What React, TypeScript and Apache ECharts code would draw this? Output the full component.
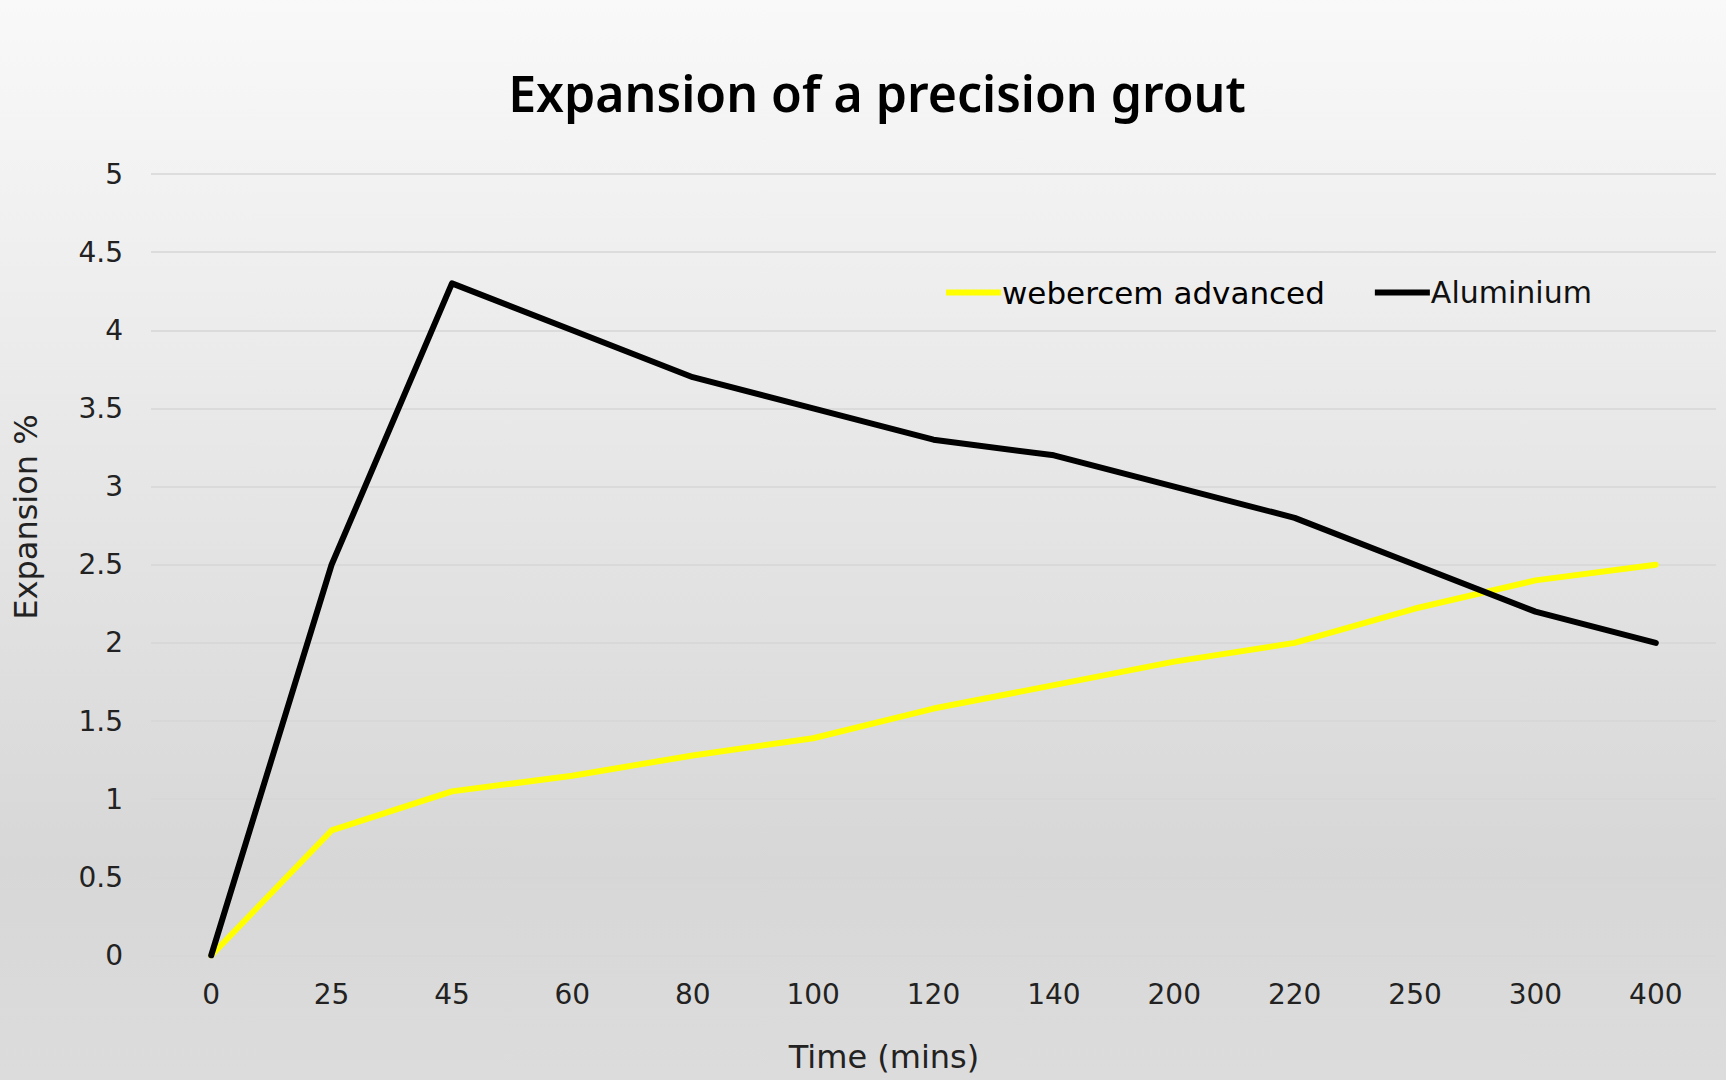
import React, { useEffect, useRef } from "react";
import * as echarts from "echarts";

const categories = ["0", "25", "45", "60", "80", "100", "120", "140", "200", "220", "250", "300", "400"];
const weberValues = [0, 0.8, 1.05, 1.15, 1.28, 1.39, 1.58, 1.73, 1.88, 2.0, 2.22, 2.4, 2.5];
const aluminiumValues = [0, 2.5, 4.3, 4.0, 3.7, 3.5, 3.3, 3.2, 3.0, 2.8, 2.5, 2.2, 2.0];
const seriesNames = ["webercem advanced", "Aluminium"];
const titleText = "Expansion of a precision grout";
const yAxisName = "Expansion %";
const xAxisName = "Time (mins)";

const FONT = "'DejaVu Sans', sans-serif";

export default function App() {
  const ref = useRef<HTMLDivElement>(null);
  useEffect(() => {
    document.body.style.margin = "0";
    const chart = echarts.init(ref.current!, null, { renderer: "svg" });
    chart.setOption({
      animation: false,
      backgroundColor: new echarts.graphic.LinearGradient(0, 0, 0, 1, [
        { offset: 0, color: "#f9f9f9" },
        { offset: 0.8, color: "#d7d7d7" },
        { offset: 1, color: "#dcdcdc" },
      ]),
      title: {
        text: titleText,
        left: 872,
        textAlign: "center",
        top: 63,
        textStyle: { fontFamily: "'Noto Sans', sans-serif", fontSize: 50, fontWeight: 600, color: "#000" },
      },
      legend: {
        data: seriesNames,
        left: 941,
        top: 272,
        itemWidth: 55,
        itemHeight: 6,
        itemGap: 50,
        icon: "rect",
        formatter: (name: string) => (name === seriesNames[0] ? `{b|${name}}` : `{n|${name}}`),
        textStyle: {
          fontFamily: FONT,
          fontSize: 30,
          color: "#000",
          padding: [0, 0, 0, -4],
          rich: {
            b: { fontFamily: FONT, fontSize: 31, color: "#000", fontWeight: 500 },
            n: { fontFamily: FONT, fontSize: 30, color: "#111" },
          },
        },
      },
      grid: { left: 151, right: 10, top: 174, bottom: 124.5, containLabel: false },
      xAxis: {
        type: "category",
        data: categories,
        boundaryGap: true,
        axisLine: { show: false },
        axisTick: { show: false },
        axisLabel: { fontFamily: FONT, fontSize: 28, color: "#222", margin: 25 },
      },
      yAxis: {
        type: "value",
        min: 0,
        max: 5,
        interval: 0.5,
        axisLine: { show: false },
        axisTick: { show: false },
        splitLine: { lineStyle: { color: "#d6d6d6", width: 1.5 } },
        axisLabel: { fontFamily: FONT, fontSize: 28, color: "#222", margin: 28 },
      },
      graphic: [
        {
          type: "text",
          x: 26,
          y: 517,
          rotation: Math.PI / 2,
          style: {
            text: yAxisName,
            fontFamily: FONT,
            fontSize: 32,
            fill: "#222",
            align: "center",
            verticalAlign: "middle",
          },
        },
        {
          type: "text",
          x: 884,
          y: 1057,
          style: {
            text: xAxisName,
            fontFamily: FONT,
            fontSize: 32,
            fill: "#222",
            align: "center",
            verticalAlign: "middle",
          },
        },
      ],
      series: [
        {
          name: seriesNames[0],
          type: "line",
          data: weberValues,
          showSymbol: false,
          symbol: "none",
          color: "#ffff00",
          lineStyle: { color: "#ffff00", width: 6, cap: "round", join: "round" },
          z: 2,
        },
        {
          name: seriesNames[1],
          type: "line",
          data: aluminiumValues,
          showSymbol: false,
          symbol: "none",
          color: "#000000",
          lineStyle: { color: "#000000", width: 6, cap: "round", join: "round" },
          z: 3,
        },
      ],
    });
    return () => chart.dispose();
  }, []);
  return <div ref={ref} style={{ position: "absolute", left: 0, top: 0, width: 1726, height: 1080 }} />;
}
